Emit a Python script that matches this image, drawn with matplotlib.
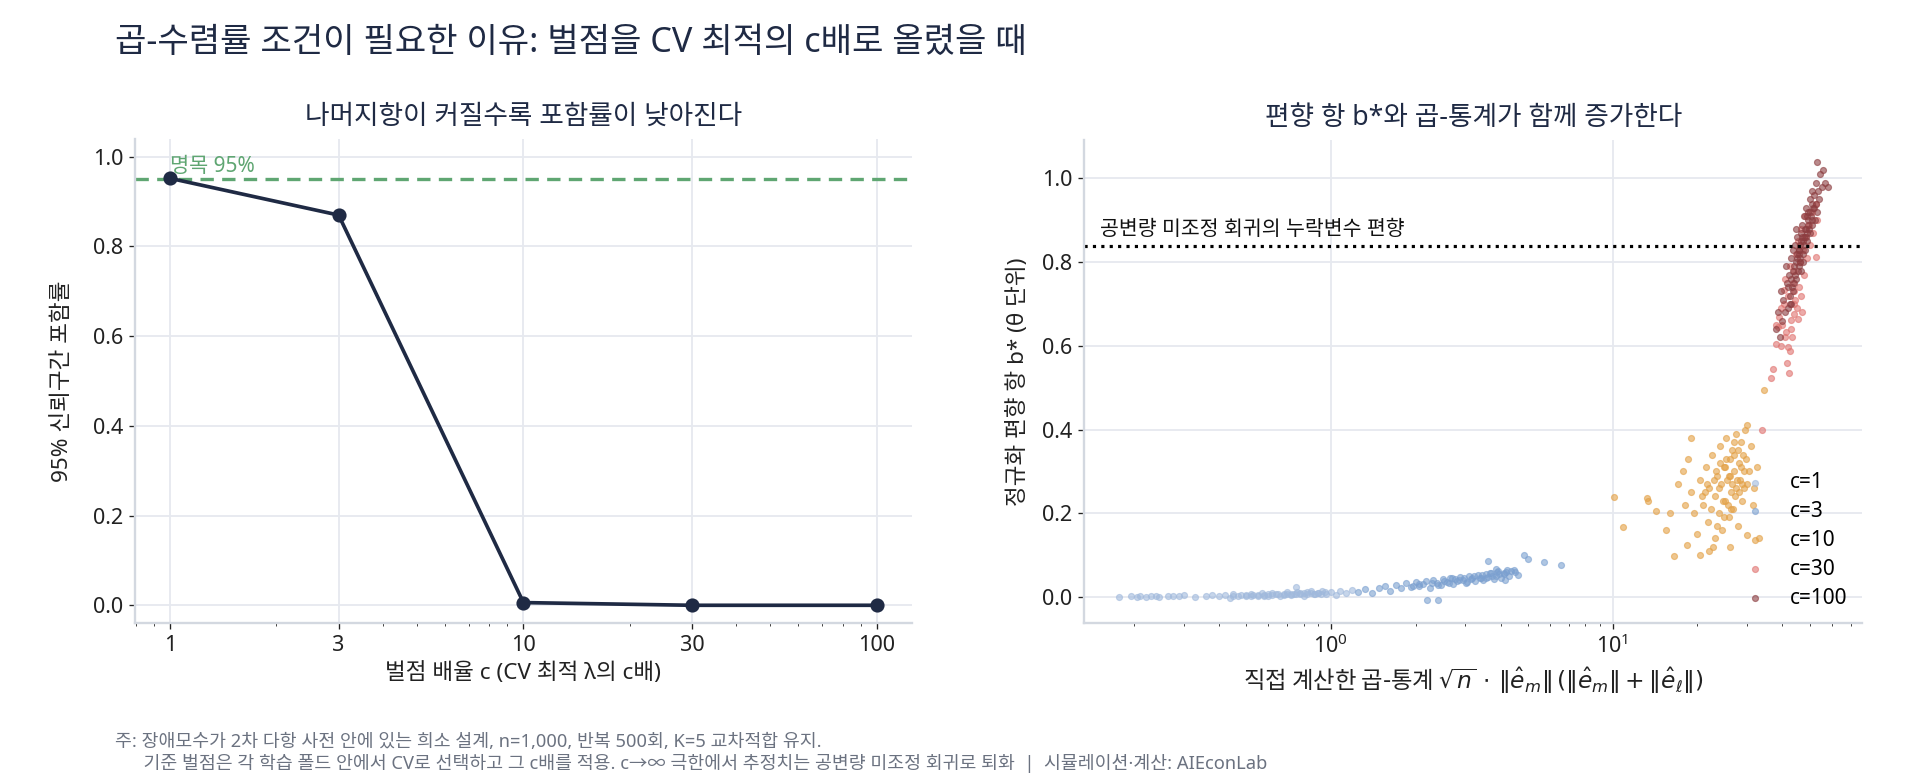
import numpy as np
import matplotlib
matplotlib.use("Agg")
import matplotlib.pyplot as plt
from matplotlib.ticker import FixedLocator, NullFormatter

plt.rcParams['font.family'] = ['Noto Sans', 'Noto Sans CJK KR', 'DejaVu Sans']
plt.rcParams['axes.unicode_minus'] = False

NAVY = '#1f2a44'
GRID = '#e6e9ef'
SPINE = '#d3d8e0'

# left panel: coverage by penalty multiplier
c_mult = [1, 3, 10, 30, 100]
coverage = [0.952, 0.870, 0.006, 0.0, 0.0]
nominal = 0.95

# right panel: product statistic vs normalized bias b*
c1_x = [0.177, 0.195, 0.205, 0.21, 0.22, 0.23, 0.24, 0.245, 0.265, 0.276, 0.288, 0.30,
        0.33, 0.36, 0.38, 0.40, 0.42, 0.44, 0.45, 0.47, 0.48, 0.50, 0.52, 0.53, 0.55,
        0.57, 0.58, 0.60, 0.62, 0.64, 0.66, 0.68, 0.70, 0.72, 0.74, 0.76, 0.78, 0.80,
        0.82, 0.85, 0.87, 0.90, 0.93, 0.96, 1.00, 1.04, 1.08, 1.13, 1.19, 0.75,
        0.45, 0.50, 0.55, 0.60, 0.65, 0.70, 0.75, 0.80, 0.85, 0.90, 0.95, 0.52, 0.62,
        0.72, 0.82, 0.92, 0.58, 0.68, 0.78, 0.88]
c1_y = [0.000, 0.001, -0.001, 0.002, 0.000, 0.001, 0.002, -0.001, 0.002, 0.003, 0.001, 0.004,
        -0.001, 0.003, 0.005, 0.002, 0.004, -0.002, 0.006, 0.003, 0.005, 0.001, 0.007, 0.004,
        0.002, 0.009, 0.005, 0.003, 0.010, 0.006, 0.001, 0.008, 0.011, 0.004, 0.007, 0.012,
        0.009, 0.002, 0.011, 0.013, 0.006, 0.010, 0.015, 0.008, 0.012, 0.004, 0.014, 0.010,
        0.017, 0.024,
        0.003, 0.004, 0.005, 0.006, 0.007, 0.006, 0.008, 0.009, 0.010, 0.009, 0.011, 0.002,
        0.004, 0.006, 0.007, 0.008, 0.003, 0.005, 0.006, 0.007]
c3_x = [1.25, 1.32, 1.40, 1.48, 1.55, 1.62, 1.70, 1.78, 1.85, 1.92, 2.00, 2.05, 2.12,
        2.18, 2.25, 2.30, 2.38, 2.45, 2.50, 2.58, 2.65, 2.72, 2.80, 2.88, 2.95, 3.02,
        3.10, 3.18, 3.25, 3.32, 3.40, 3.48, 3.55, 3.62, 3.70, 3.78, 3.85, 3.92, 4.00,
        4.10, 4.20, 4.30, 4.45, 4.60, 4.84, 5.00, 5.70, 6.55, 2.20, 2.40, 3.60, 4.15,
        2.05, 2.28, 2.52, 2.75, 2.98, 3.22, 3.45, 3.68, 3.90, 4.12, 4.35, 2.62, 2.85,
        3.15, 3.38, 3.72, 3.95, 4.22, 2.40, 3.05, 3.55, 4.50, 1.95, 2.70, 3.85]
c3_y = [0.012, 0.018, 0.010, 0.022, 0.025, 0.015, 0.028, 0.020, 0.032, 0.024, 0.035, 0.027,
        0.030, 0.038, 0.022, 0.040, 0.033, 0.028, 0.042, 0.036, 0.045, 0.030, 0.038, 0.048,
        0.041, 0.034, 0.050, 0.044, 0.037, 0.052, 0.046, 0.040, 0.055, 0.048, 0.058, 0.042,
        0.051, 0.062, 0.046, 0.055, 0.060, 0.050, 0.065, 0.053, 0.100, 0.090, 0.083, 0.076,
        -0.008, -0.008, 0.085, 0.040,
        0.030, 0.034, 0.038, 0.043, 0.046, 0.049, 0.052, 0.056, 0.060, 0.058, 0.062, 0.032,
        0.040, 0.042, 0.046, 0.050, 0.054, 0.064, 0.028, 0.036, 0.044, 0.060, 0.026, 0.046,
        0.066]
c10_x = [10.1, 13.2, 13.3, 10.9, 14.2, 16.5, 18.3, 17.0, 17.8, 18.5, 19.0, 19.5, 20.0,
         20.5, 21.0, 21.5, 21.8, 22.0, 22.5, 22.8, 23.0, 23.5, 23.8, 24.0, 24.2, 24.5,
         24.8, 25.0, 25.3, 25.5, 25.8, 26.0, 26.3, 26.5, 26.8, 27.0, 27.3, 27.5, 27.8,
         28.0, 28.3, 28.5, 28.8, 29.0, 29.3, 29.6, 30.0, 30.0, 31.0, 31.5, 32.5, 33.0,
         20.5, 22.0, 19.0, 18.0, 16.0, 15.5, 23.0, 26.0, 30.0, 34.5,
         21.2, 22.4, 23.2, 23.9, 24.6, 25.2, 25.9, 26.6, 27.2, 27.9, 28.6, 29.2, 22.9,
         24.1, 25.6, 26.9, 28.1, 29.8, 23.5, 24.9, 26.2, 27.6, 21.6, 20.8, 25.0, 26.4,
         27.0, 28.9, 30.5, 31.8]
c10_y = [0.238, 0.236, 0.228, 0.166, 0.205, 0.097, 0.123, 0.27, 0.30, 0.33, 0.25, 0.20, 0.15,
         0.28, 0.22, 0.31, 0.18, 0.26, 0.34, 0.12, 0.24, 0.29, 0.20, 0.36, 0.27, 0.16,
         0.31, 0.23, 0.38, 0.28, 0.19, 0.33, 0.25, 0.35, 0.21, 0.30, 0.39, 0.26, 0.17,
         0.32, 0.28, 0.37, 0.23, 0.34, 0.30, 0.40, 0.27, 0.41, 0.36, 0.22, 0.31, 0.14,
         0.10, 0.11, 0.38, 0.22, 0.20, 0.16, 0.14, 0.12, 0.147, 0.494,
         0.25, 0.21, 0.30, 0.26, 0.23, 0.33, 0.29, 0.27, 0.24, 0.35, 0.31, 0.26, 0.28,
         0.32, 0.22, 0.34, 0.25, 0.33, 0.17, 0.19, 0.29, 0.28, 0.27, 0.24, 0.31, 0.21,
         0.37, 0.27, 0.30, 0.26]
c30_x = [37.9, 38.6, 41.1, 40.9, 43.2, 38.0, 41.9, 42.6, 37.0, 36.4, 42.3, 42.9, 45.4,
         47.0, 43.9, 40.5, 40.5, 44.0, 46.5, 42.0, 39.5, 43.5, 45.8, 41.0, 47.8, 44.2,
         42.5, 46.3, 49.0, 44.8, 47.4, 52.6, 50.0, 45.6, 48.2, 51.5, 46.5, 53.3, 49.6,
         48.0, 51.0, 52.8, 44.0, 38.8, 40.0, 45.0, 43.0, 39.5, 41.5, 44.5, 34.0]
c30_y = [0.649, 0.644, 0.633, 0.621, 0.620, 0.604, 0.597, 0.587, 0.544, 0.522, 0.534, 0.661,
         0.663, 0.680, 0.677, 0.699, 0.734, 0.70, 0.72, 0.72, 0.69, 0.75, 0.74, 0.76, 0.77,
         0.78, 0.79, 0.80, 0.81, 0.82, 0.83, 0.812, 0.84, 0.85, 0.86, 0.87, 0.88, 0.90,
         0.89, 0.91, 0.92, 0.94, 0.73, 0.67, 0.65, 0.69, 0.64, 0.60, 0.56, 0.71, 0.40]
c100_x = [40.0, 38.5, 41.8, 40.2, 42.5, 39.6, 43.4, 41.5, 44.8, 42.3, 45.5, 43.8, 41.2,
          46.4, 44.6, 42.9, 47.2, 45.3, 43.6, 48.0, 46.1, 44.4, 49.1, 47.3, 45.2, 48.6,
          46.8, 50.2, 44.9, 48.1, 51.0, 46.9, 49.5, 52.3, 47.8, 50.6, 49.2, 53.0, 51.4,
          48.5, 52.5, 50.3, 54.0, 51.8, 53.6, 50.9, 55.2, 52.7, 56.5, 54.6, 53.3, 55.6,
          58.3, 43.0, 38.0, 39.2, 45.8, 47.5, 46.0, 49.8,
          42.0, 43.1, 44.0, 45.0, 45.9, 46.7, 47.6, 48.4, 49.4, 50.1, 51.2, 44.5, 46.2,
          47.9, 43.5, 45.7, 48.8, 50.8, 42.6, 47.0, 49.0, 52.0, 41.0, 44.1, 46.6]
c100_y = [0.66, 0.68, 0.69, 0.71, 0.72, 0.73, 0.74, 0.75, 0.76, 0.77, 0.78, 0.78, 0.79,
          0.80, 0.80, 0.81, 0.82, 0.82, 0.83, 0.83, 0.84, 0.84, 0.85, 0.85, 0.86, 0.86,
          0.87, 0.87, 0.88, 0.88, 0.89, 0.89, 0.90, 0.90, 0.91, 0.91, 0.92, 0.92, 0.93,
          0.93, 0.94, 0.95, 0.95, 0.96, 0.97, 0.97, 0.98, 0.99, 0.99, 1.01, 1.04, 1.02,
          0.98, 0.70, 0.64, 0.62, 0.79, 0.80, 0.83, 0.88,
          0.74, 0.76, 0.79, 0.81, 0.82, 0.85, 0.86, 0.88, 0.89, 0.92, 0.94, 0.77, 0.81,
          0.84, 0.73, 0.83, 0.87, 0.90, 0.70, 0.86, 0.91, 0.93, 0.68, 0.75, 0.78]
omitted_bias = 0.839

groups = [
    ('c=1', c1_x, c1_y, '#a0b9dc'),
    ('c=3', c3_x, c3_y, '#7ba0d0'),
    ('c=10', c10_x, c10_y, '#e3a045'),
    ('c=30', c30_x, c30_y, '#e07470'),
    ('c=100', c100_x, c100_y, '#8c3d40'),
]

fig = plt.figure(figsize=(16, 6.5), dpi=120)
ax1 = fig.add_axes([0.0703, 0.201, 0.4047, 0.621])
ax2 = fig.add_axes([0.5646, 0.201, 0.4054, 0.6195])


def style(ax):
    ax.grid(True, color=GRID, lw=1.1)
    ax.set_axisbelow(True)
    for s in ['top', 'right']:
        ax.spines[s].set_visible(False)
    for s in ['left', 'bottom']:
        ax.spines[s].set_color(SPINE)
        ax.spines[s].set_linewidth(1.4)
    ax.tick_params(labelsize=13, colors='#222222')
    ax.tick_params(which='minor', colors='#444444')


# ---- left
ax1.set_xscale('log')
ax1.axhline(nominal, color='#5fa672', ls='--', lw=2, dashes=(4, 2.5))
ax1.plot(c_mult, coverage, '-o', color=NAVY, lw=2.2, ms=7.5)
ax1.text(1.0, nominal + 0.006, '명목 95%', color='#5fa672', fontsize=12.5, va='bottom')
ax1.xaxis.set_major_locator(FixedLocator(c_mult))
ax1.set_xticklabels([str(c) for c in c_mult])
ax1.xaxis.set_minor_formatter(NullFormatter())
ax1.set_xlim(0.796, 125.7)
ax1.set_ylim(-0.04, 1.04)
ax1.set_yticks([0, 0.2, 0.4, 0.6, 0.8, 1.0])
ax1.set_xlabel('벌점 배율 c (CV 최적 λ의 c배)', fontsize=13.5, color='#222222')
ax1.set_ylabel('95% 신뢰구간 포함률', fontsize=13.5, color='#222222', labelpad=12)
ax1.set_title('나머지항이 커질수록 포함률이 낮아진다', fontsize=16, color=NAVY, pad=9)
style(ax1)

# ---- right
ax2.set_xscale('log')
for name, xs, ys, col in groups:
    ax2.scatter(xs, ys, s=13, color=col, alpha=0.6, linewidths=0.7, label=name)
ax2.axhline(omitted_bias, color='black', ls=':', lw=1.9)
ax2.text(0.152, omitted_bias + 0.014, '공변량 미조정 회귀의 누락변수 편향', fontsize=12.3,
         color='#111111', va='bottom')
ax2.set_xlim(0.133, 77)
ax2.set_ylim(-0.063, 1.092)
ax2.set_yticks([0, 0.2, 0.4, 0.6, 0.8, 1.0])
ax2.set_xlabel(r'직접 계산한 곱-통계 $\sqrt{n}\,\cdot\,\|\hat{e}_m\|\,(\|\hat{e}_m\|+\|\hat{e}_\ell\|)$',
               fontsize=14, color='#222222', family=['Noto Sans CJK KR', 'DejaVu Sans'])
ax2.set_ylabel('정규화 편향 항 b* (θ 단위)', fontsize=13.5, color='#222222', labelpad=7.5)
ax2.set_title('편향 항 b*와 곱-통계가 함께 증가한다', fontsize=16, color=NAVY, pad=9)
style(ax2)
ax2.legend(loc='lower right', frameon=False, fontsize=12.5, handletextpad=1.0,
           labelspacing=0.38, handlelength=1.4, borderaxespad=0.3)

fig.text(0.06, 0.945, '곱-수렴률 조건이 필요한 이유: 벌점을 CV 최적의 c배로 올렸을 때',
         fontsize=20.5, color=NAVY, va='center')
fig.text(0.06, 0.035,
         '주: 장애모수가 2차 다항 사전 안에 있는 희소 설계, n=1,000, 반복 500회, K=5 교차적합 유지.\n'
         '      기준 벌점은 각 학습 폴드 안에서 CV로 선택하고 그 c배를 적용. c→∞ 극한에서 추정치는 '
         '공변량 미조정 회귀로 퇴화  |  시뮬레이션·계산: AIEconLab',
         fontsize=11, color='#6b7280', va='center', linespacing=1.2)

fig.savefig('out.png', dpi=120)
